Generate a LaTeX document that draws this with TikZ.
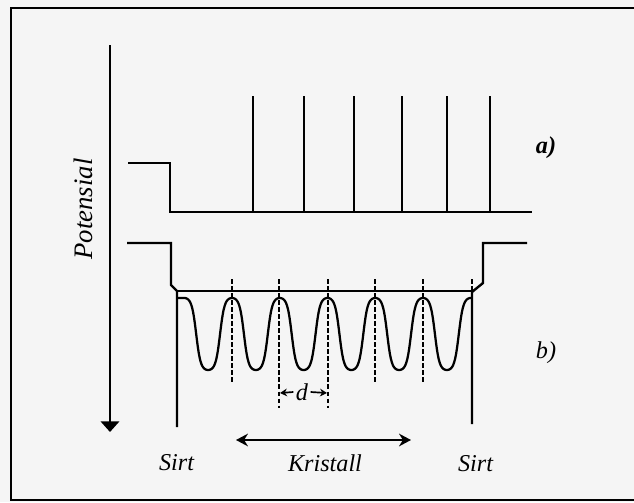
\documentclass[tikz,border=0pt]{standalone}
\usepackage{fontspec}
\setmainfont{Liberation Serif}
\usetikzlibrary{arrows.meta}

\begin{document}
\begin{tikzpicture}[x=0.025cm, y=-0.025cm, line width=1.6pt,
  every node/.style={font=\fontsize{17.2}{20}\selectfont\itshape, inner sep=1pt},
  wall/.style={line width=1.7pt},
  latt/.style={line width=1.6pt, dash pattern=on 3.2pt off 1.8pt},
  >={Stealth[length=8.5pt,width=9pt]}]
\fill[black!4] (0,0) rectangle (634,502);
\useasboundingbox (0,0) rectangle (634,502);
% frame
\draw[wall] (634,8) -- (11,8) -- (11,500) -- (634,500);
% potential axis
\coordinate (ptop) at (110,45);
\coordinate (pbot) at (110,432);
\draw[-{Triangle[length=7.5pt,width=13pt]}] (ptop) -- (pbot);
\node[rotate=90, font=\fontsize{19}{22}\selectfont\itshape] (pot) at (83,209) {Potensial};
% a) Kronig-Penney type potential
\draw[wall] (128,163) -- (170,163) -- (170,212) -- (532,212);
\foreach \x in {253,304,354,402,447,490}
  \draw[wall] (\x,212) -- (\x,96);
\node[font=\fontsize{17.2}{20}\selectfont\bfseries\itshape] (lbla) at (546,148) {a)};
% b) real crystal potential
\draw[wall] (127,243) -- (171,243) -- (171,285) -- (177,291) -- (177,427);
\draw[wall] (177,291) -- (472,291);
\draw[wall] (472,424) -- (472,292) -- (483,283) -- (483,243) -- (527,243);
\draw (178,298) -- (184.25,298)
  plot[domain=184.25:471.5, samples=300, smooth] (\x, {334-36*tanh(1.6*cos((\x-232)*7.5393))/tanh(1.6)});
\foreach \x in {232,375,423,472}
  \draw[latt] (\x,279) -- (\x,382);
\foreach \x in {279,328}
  \draw[latt] (\x,279) -- (\x,408);
\node (lblb) at (546,353) {b)};
% lattice constant
\coordinate (dl) at (280,393);
\coordinate (dr) at (327,393);
\node (d) at (302,392) {d};
\draw[-{Stealth[length=5pt,width=5.5pt]}, line width=1.2pt] (d.west) -- (dl);
\draw[-{Stealth[length=5pt,width=5.5pt]}, line width=1.2pt] (d.east) -- (dr);
% labels
\coordinate (kl) at (236,440);
\coordinate (kr) at (411,440);
\draw[<->, line width=1.7pt] (kl) -- (kr);
\node (sirt1) at (176.5,463) {Sirt};
\node (krist) at (325,463) {Kristall};
\node (sirt2) at (475.5,464) {Sirt};
\end{tikzpicture}
\end{document}
